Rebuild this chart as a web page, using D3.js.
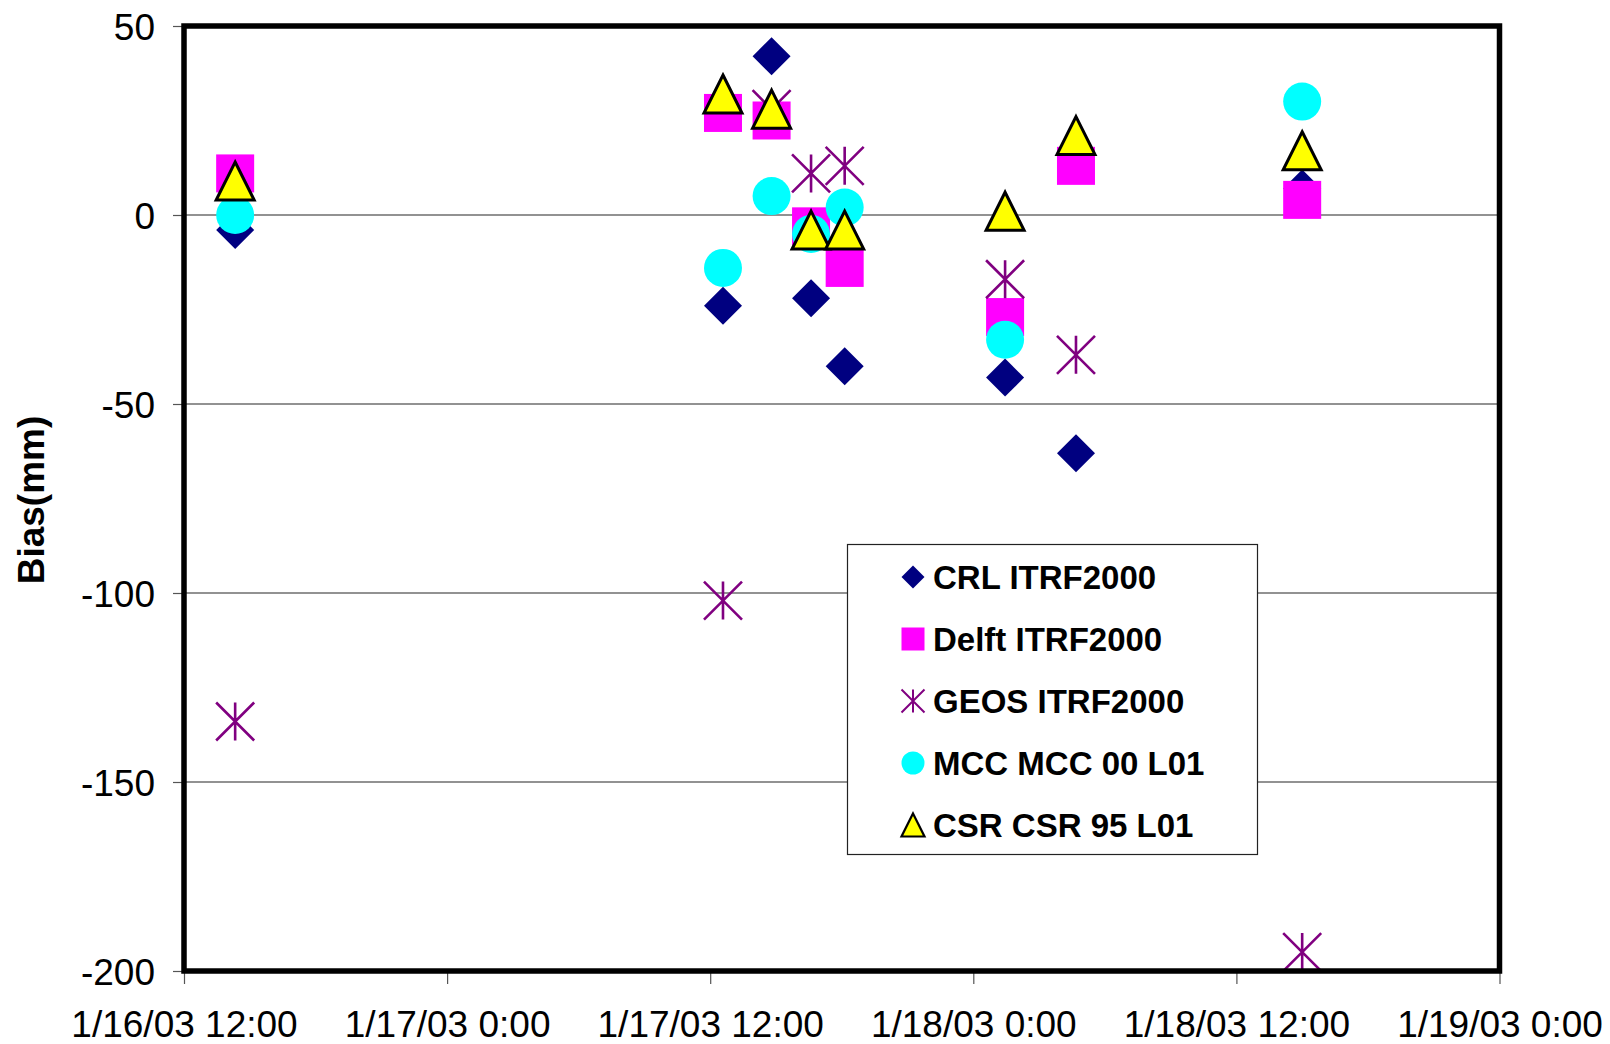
<!DOCTYPE html>
<html><head><meta charset="utf-8">
<script src="https://cdn.jsdelivr.net/npm/d3@7"></script>
<style>body{margin:0;background:#fff}svg{display:block}text{font-family:"Liberation Sans",Arial,sans-serif}</style>
</head><body><svg id="c" width="1610" height="1044"></svg>
<script>
// ---- data ----
const times = ["2003-01-16T14:20","2003-01-17T12:35","2003-01-17T14:48","2003-01-17T16:36","2003-01-17T18:08","2003-01-18T01:27","2003-01-18T04:41","2003-01-18T15:00"];
const seriesNames = ["CRL ITRF2000","Delft ITRF2000","GEOS ITRF2000","MCC MCC 00 L01","CSR CSR 95 L01"];
const crl   = [-4, -24, 42, -22, -40, -43, -63, 7];
const delft = [11, 27, 25, -3, -14, -27, 13, 4];
const geos  = [-134, -102, 28, 11, 13, -17, -37, -195];
const mcc   = [0, -14, 5, -5, 2, -33, null, 30];
const csr   = [9, 32, 28, -4, -4, 1, 21, 17];
const yTicks = [50, 0, -50, -100, -150, -200];
const xTickLabels = ["1/16/03 12:00","1/17/03 0:00","1/17/03 12:00","1/18/03 0:00","1/18/03 12:00","1/19/03 0:00"];
const yTitle = "Bias(mm)";

// ---- setup ----
const svg = d3.select("#c");
const L = 184, R = 1499.5, T = 26, B = 971;
const parse = s => new Date(s + ":00Z");
const x = d3.scaleUtc().domain([parse("2003-01-16T12:00"), parse("2003-01-19T00:00")]).range([L, R]);
const y = d3.scaleLinear().domain([-200, 50]).range([B, T]);
const xTickVals = d3.range(6).map(i => new Date(parse("2003-01-16T12:00").getTime() + i * 12 * 3600e3));

const styles = [
  {type: "diamond", fill: "#000080", stroke: "none"},
  {type: "square", fill: "#FF00FF", stroke: "none"},
  {type: "star", fill: "none", stroke: "#800080"},
  {type: "circle", fill: "#00FFFF", stroke: "none"},
  {type: "triangle", fill: "#FFFF00", stroke: "#000"}
];
const allVals = [crl, delft, geos, mcc, csr];

function marker(g, type, s, st) {
  const h = s / 2;
  if (type === "diamond") g.append("path").attr("d", `M0,${-h}L${h},0L0,${h}L${-h},0Z`).attr("fill", st.fill);
  else if (type === "square") g.append("rect").attr("x", -h).attr("y", -h).attr("width", s).attr("height", s).attr("fill", st.fill);
  else if (type === "circle") g.append("circle").attr("r", h).attr("fill", st.fill);
  else if (type === "triangle") g.append("path").attr("d", `M0,${-h}L${h},${h}L${-h},${h}Z`).attr("fill", st.fill).attr("stroke", st.stroke).attr("stroke-width", s > 30 ? 3 : 2.2).attr("stroke-linejoin", "miter");
  else if (type === "star") g.append("path").attr("d", `M0,${-h}L0,${h}M${-h},${-h}L${h},${h}M${-h},${h}L${h},${-h}`).attr("stroke", st.stroke).attr("stroke-width", s > 30 ? 2.6 : 2).attr("fill", "none");
}

// gridlines
svg.append("g").selectAll("line").data(yTicks.filter(v => v !== 50 && v !== -200)).join("line")
  .attr("x1", L).attr("x2", R).attr("y1", d => y(d)).attr("y2", d => y(d))
  .attr("stroke", "#6e6e6e").attr("stroke-width", 1.3);

// y axis
const yAxis = d3.axisLeft(y).tickValues(yTicks).tickSize(11).tickPadding(18).tickFormat(d => String(d));
const yg = svg.append("g").attr("transform", `translate(${L},0)`).call(yAxis);
yg.select(".domain").remove();
yg.selectAll(".tick line").attr("stroke", "#555").attr("stroke-width", 1.2);
yg.selectAll(".tick text").attr("font-size", 37).attr("fill", "#000").attr("font-family", "Liberation Sans, Arial, sans-serif").attr("dy", "0.36em");

// x axis
const xAxis = d3.axisBottom(x).tickValues(xTickVals).tickSize(13).tickPadding(0).tickFormat((d, i) => xTickLabels[i]);
const xg = svg.append("g").attr("transform", `translate(0,${B})`).call(xAxis);
xg.select(".domain").remove();
xg.selectAll(".tick line").attr("stroke", "#555").attr("stroke-width", 1.2);
xg.selectAll(".tick text").attr("font-size", 37).attr("fill", "#000").attr("font-family", "Liberation Sans, Arial, sans-serif").attr("y", 66).attr("dy", 0);

// y title
svg.append("text").attr("transform", "translate(44,500) rotate(-90)").attr("text-anchor", "middle")
  .attr("font-size", 37).attr("font-weight", "bold").text(yTitle);

// points
allVals.forEach((vals, si) => {
  const g = svg.append("g");
  vals.forEach((v, i) => {
    if (v === null) return;
    const mg = g.append("g").attr("transform", `translate(${x(parse(times[i]))},${y(v)})`);
    marker(mg, styles[si].type, 38, styles[si]);
  });
});

// frame
svg.append("rect").attr("x", L).attr("y", T).attr("width", R - L).attr("height", B - T)
  .attr("fill", "none").attr("stroke", "#000").attr("stroke-width", 5.5);

// legend
const lg = svg.append("g");
lg.append("rect").attr("x", 847.5).attr("y", 544.5).attr("width", 410).attr("height", 310)
  .attr("fill", "#fff").attr("stroke", "#222").attr("stroke-width", 1.2);
seriesNames.forEach((name, i) => {
  const cy = 577 + i * 62;
  const mg = lg.append("g").attr("transform", `translate(913,${cy})`);
  marker(mg, styles[i].type, 23, styles[i]);
  lg.append("text").attr("x", 933).attr("y", cy).attr("dy", "0.36em")
    .attr("font-size", 33).attr("font-weight", "bold").text(name);
});
</script></body></html>
